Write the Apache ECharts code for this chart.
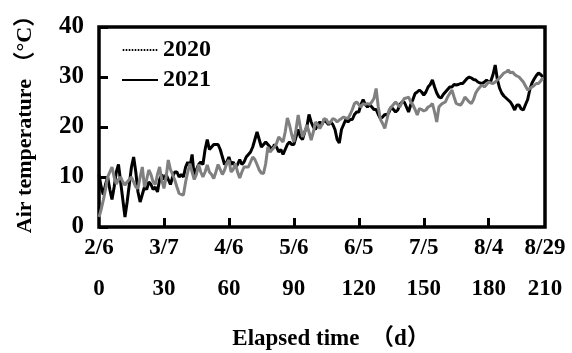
<!DOCTYPE html>
<html>
<head>
<meta charset="utf-8">
<script src="https://cdn.jsdelivr.net/npm/echarts@6/dist/echarts.min.js"></script>
<style>
html,body{margin:0;padding:0;background:#fff;}
#chart{width:572px;height:353px;}
</style>
</head>
<body>
<div id="chart"></div>
<script>
// Elapsed days of the tick positions and their two label rows
const tickDays = [0, 30, 60, 90, 120, 150, 180, 206];
const dateLabels = ['2/6', '3/7', '4/6', '5/6', '6/5', '7/5', '8/4', '8/29'];
const dayLabels = ['0', '30', '60', '90', '120', '150', '180', '210'];
const yTicks = [0, 10, 20, 30, 40];

// Daily air temperature (°C), day 0 = 2/6
const temp2020 = [
  2, 3.5, 5.4, 7.5, 10, 11, 12, 10, 8.6, 9.5,
  10, 9, 8.4, 9, 9.5, 10, 9, 8, 7.7, 10,
  12, 8, 9.5, 11.4, 10.5, 9, 8.5, 10.5, 12, 9.4,
  7.7, 10, 13.4, 11.5, 10.5, 9.4, 8, 6.7, 6.5, 6.4,
  9, 11, 12.7, 11, 9.5, 10.5, 12.5, 11, 10, 11,
  12.4, 11, 10.5, 9.7, 11, 12.5, 11.5, 10.5, 11.4, 12.7,
  13.4, 11, 11.5, 12.7, 11, 9.8, 11, 12, 12, 12,
  13, 14, 13.5, 12.5, 11.4, 10.8, 10.7, 12.7, 16, 15,
  15.5, 16, 16.7, 18, 17.5, 17, 19, 21.8, 20.4, 18.5,
  17, 19.5, 22.4, 20, 18, 19, 20.4, 19, 17.4, 19,
  21, 20.5, 19.7, 20.5, 21.7, 21.5, 20.7, 21, 21.7, 21.5,
  21, 21.4, 21.7, 22, 21.8, 21.7, 22.5, 23.5, 24.7, 25,
  24.5, 24, 24.7, 24.5, 24.7, 24.5, 25, 25.7, 27.7, 24,
  21.5, 20.7, 19.7, 21.5, 23.4, 24, 24.5, 25, 24.5, 24,
  25, 25.7, 25.8, 26, 25, 24.4, 23.5, 22.4, 23.7, 23.5,
  23.2, 23.4, 24, 24.2, 24.7, 23, 21, 24, 24.5, 24.8,
  25, 26, 26.7, 27.4, 26, 24.7, 24.5, 24.4, 25, 26,
  25.5, 25, 24.7, 25.5, 26.8, 27.5, 28, 28.4, 28, 28.5,
  29, 28.8, 28.7, 29, 29.4, 29.8, 30.3, 30.8, 31, 31.4,
  30.8, 31, 30.5, 30.2, 30, 29.5, 29, 28.2, 27.4, 27.7,
  28, 28.3, 28.7, 28.7, 29.2, 29.8
];
const temp2021 = [
  10.5, 8, 6.5, 8.5, 10, 7.5, 5.5, 8, 11, 12.5,
  9, 5.5, 2, 5, 8.5, 12, 14, 11, 7, 5,
  6.5, 8, 7.5, 9, 8.5, 7.5, 8, 7, 9.5, 10.5,
  9.5, 10.5, 9.5, 8.5, 10, 11, 11, 10, 10.5, 10,
  12, 13, 12, 14.5, 10, 11.5, 12.5, 13, 12.5, 15.5,
  17.5, 15.5, 16, 16.5, 16.5, 16.5, 15.5, 14, 12.5, 13,
  14, 12.5, 13, 12, 12.5, 13.5, 12.5, 13, 14, 14.5,
  15, 16, 17.5, 19, 17.5, 16, 16.5, 17, 16.5, 16,
  15.5, 16.5, 16, 15, 15.5, 14.5, 15.5, 16.5, 17, 16.5,
  16.5, 18, 19.5, 18, 17.5, 19, 20, 22.5, 21, 20,
  19.5, 20.5, 21, 20.5, 21.5, 21, 20.5, 21, 20.5, 19.5,
  17.5, 16.8, 19.5, 20.5, 21.5, 21, 21.5, 21.5, 22.5, 23,
  23, 24.5, 25.5, 24.5, 24, 24.5, 24, 23.5, 23.5, 22.5,
  21.7, 22, 22.5, 22.4, 23, 24, 23.5, 23, 23.4, 24.5,
  25, 25, 24, 23, 24.5, 25.5, 26.7, 27, 27.4, 27,
  26.4, 27, 28, 28.5, 29.4, 28, 26.8, 26, 25.8, 26.5,
  27, 27.5, 28, 28, 28.5, 28.4, 28.5, 28.7, 28.7, 29.2,
  29.7, 30, 29.8, 29.5, 29.4, 29, 28.8, 28.7, 29, 29.4,
  29, 29.2, 30.5, 32.4, 29.5, 27.8, 26.8, 26.2, 25.8, 25.4,
  25, 24.3, 23.4, 24.4, 24.4, 23.6, 23.4, 24.5, 25.5, 27.5,
  28.8, 29.6, 30.3, 30.8, 30.5, 30
];

const FONT = '"Liberation Serif", "Times New Roman", "Noto Sans CJK SC", serif';
const pairs = arr => arr.map((v, i) => [i, v]);

// legend icons: dotted and solid short lines
let dots = '';
for (let k = 0; k < 12; k++) dots += 'M' + (k * 3) + ',0h1.6v2h-1.6z';
const dottedIcon = 'path://' + dots;
const solidIcon = 'path://M0,0h36v2h-36z';

const chart = echarts.init(document.getElementById('chart'), null, {renderer: 'canvas'});
const baseX = {
  type: 'value', min: 0, max: 206, position: 'bottom',
  axisLine: {show: false}, splitLine: {show: false}
};
chart.setOption({
  animation: false,
  backgroundColor: '#fff',
  textStyle: {fontFamily: FONT, fontWeight: 'bold', color: '#000'},
  grid: {left: 99, right: 27, top: 27, bottom: 126, show: true, borderColor: '#000', borderWidth: 3.5,
         containLabel: false, outerBoundsMode: 'none'},
  legend: {
    orient: 'vertical', left: 122, top: 38, padding: 0,
    itemWidth: 36, itemHeight: 2, itemGap: 6,
    textStyle: {fontFamily: FONT, fontWeight: 'bold', fontSize: 24, color: '#000', lineHeight: 24},
    data: [
      {name: '2020', icon: dottedIcon, itemStyle: {color: '#000', borderWidth: 0}},
      {name: '2021', icon: solidIcon, itemStyle: {color: '#000', borderWidth: 0}}
    ]
  },
  xAxis: [
    Object.assign({}, baseX, {
      name: 'Elapsed time  （d）', nameLocation: 'middle', nameGap: 101,
      nameTextStyle: {fontFamily: FONT, fontWeight: 'bold', fontSize: 23, color: '#000', padding: [0, 0, 0, 18]},
      axisTick: {show: true, inside: true, length: 9, lineStyle: {color: '#000', width: 3}, customValues: tickDays.slice(1, 7)},
      axisLabel: {
        customValues: tickDays, margin: 10,
        fontFamily: FONT, fontWeight: 'bold', fontSize: 23, color: '#000',
        formatter: v => dateLabels[tickDays.indexOf(v)]
      }
    }),
    Object.assign({}, baseX, {
      offset: 41,
      axisTick: {show: false},
      axisLabel: {
        customValues: tickDays, margin: 10,
        fontFamily: FONT, fontWeight: 'bold', fontSize: 23, color: '#000',
        formatter: v => dayLabels[tickDays.indexOf(v)]
      }
    })
  ],
  yAxis: {
    type: 'value', min: yTicks[0], max: yTicks[yTicks.length - 1], interval: 10,
    name: 'Air temperature （°C）', nameLocation: 'middle', nameGap: 63,
    nameTextStyle: {fontFamily: FONT, fontWeight: 'bold', fontSize: 22, color: '#000', padding: [0, 0, 0, 16]},
    axisLine: {show: false}, splitLine: {show: false},
    axisTick: {show: true, inside: true, length: 9, lineStyle: {color: '#000', width: 3}},
    axisLabel: {margin: 15, fontFamily: FONT, fontWeight: 'bold', fontSize: 25, color: '#000'}
  },
  series: [
    {name: '2021', type: 'line', xAxisIndex: 0, data: pairs(temp2021), symbol: 'none', z: 2,
     lineStyle: {color: '#000', width: 3}, itemStyle: {color: '#000'}},
    {name: '2020', type: 'line', xAxisIndex: 0, data: pairs(temp2020), symbol: 'none', z: 3,
     lineStyle: {color: '#808080', width: 3}, itemStyle: {color: '#808080'}}
  ]
});
</script>
</body>
</html>
